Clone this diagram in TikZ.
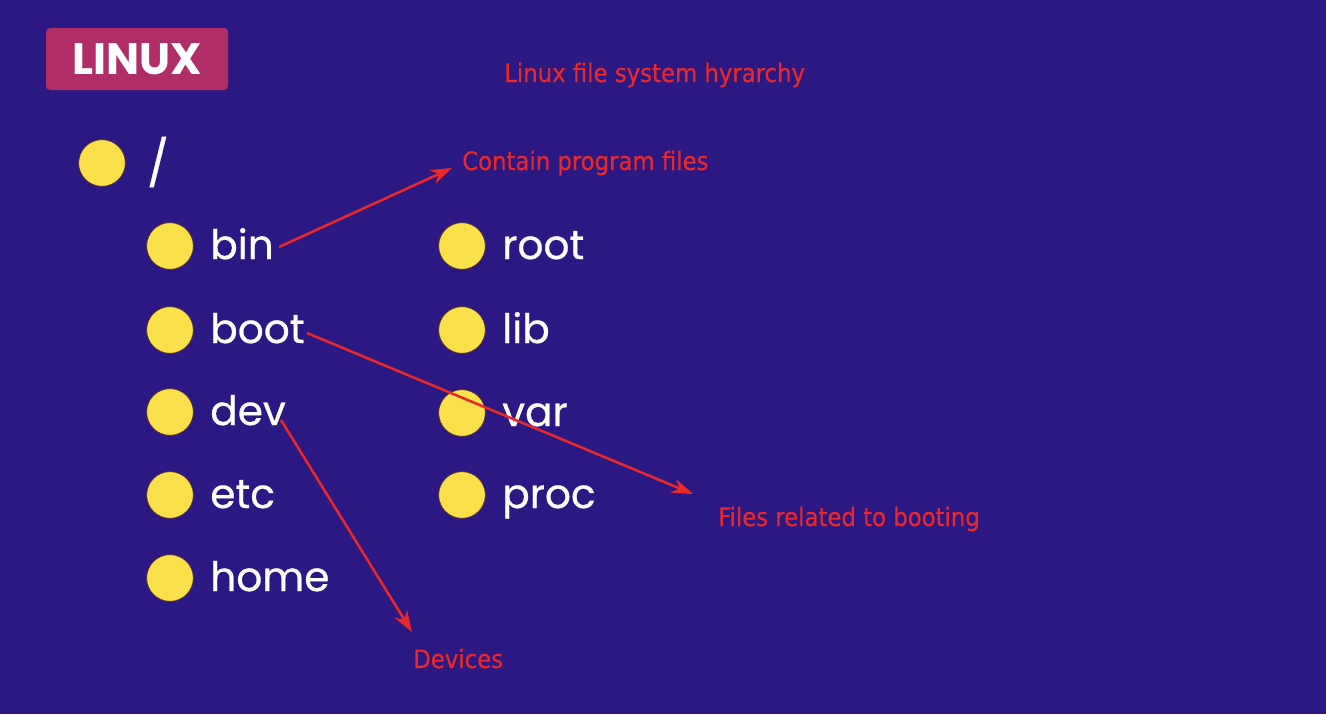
\documentclass[tikz,border=0pt]{standalone}
\usepackage{fontspec}
\setmainfont{DejaVu Sans}
\newfontfamily\notefont{DejaVu Sans Condensed}[FakeBold=0.4]
\newfontfamily\itemfont{Poppins}[FakeBold=0.6]
\newfontfamily\badgefont{Poppins}
\usetikzlibrary{arrows.meta}
\definecolor{bgblue}{RGB}{44,24,130}
\definecolor{badge}{RGB}{176,46,104}
\definecolor{dot}{RGB}{250,224,74}
\definecolor{dotrim}{RGB}{90,50,40}
\definecolor{note}{RGB}{232,40,43}
\tikzset{
  bullet/.style={circle, fill=dot, draw=dotrim, line width=0.5pt, minimum size=35pt, inner sep=0pt},
  dirname/.style={anchor=base west, inner sep=0pt, text=white, font=\itemfont\fontsize{30.5}{31}\selectfont},
  notetext/.style={anchor=base west, inner sep=0pt, text=note, font=\notefont\fontsize{19}{19}\selectfont},
  pointer/.style={draw=note, line width=1.9pt, -{Stealth[length=16pt, width=11pt]}}
}
\begin{document}
\begin{tikzpicture}[x=0.75pt, y=-0.75pt]
  % canvas
  \fill[bgblue] (0,0) rectangle (1326,714);
  \useasboundingbox (0,0) rectangle (1326,714);

  % badge
  \node[fill=badge, rounded corners=3pt, minimum width=136.5pt, minimum height=46.5pt,
        text=white, font=\badgefont\bfseries\fontsize{33}{33}\selectfont] (badge) at (137,59) {LINUX};

  % title
  \node[notetext] (title) at (504,82) {Linux file system hyrarchy};

  % root directory
  \node[bullet] (dslash) at (102,163) {};
  \node[anchor=center, inner sep=0pt, text=white, font=\itemfont\fontsize{34}{34}\selectfont] (slash) at (158,162) {/};

  % first column
  \node[bullet] (dbin)  at (170,246) {};
  \node[bullet] (dboot) at (170,330) {};
  \node[bullet] (ddev)  at (170,412) {};
  \node[bullet] (detc)  at (170,495) {};
  \node[bullet] (dhome) at (170,578) {};
  \node[dirname] (bin)  at (210,259) {bin};
  \node[dirname] (boot) at (210,343) {boot};
  \node[dirname] (dev)  at (210,425) {dev};
  \node[dirname] (etc)  at (210,508) {etc};
  \node[dirname] (home) at (210,591) {home};

  % second column
  \node[bullet] (droot) at (462,246) {};
  \node[bullet] (dlib)  at (462,330) {};
  \node[bullet] (dvar)  at (462,413) {};
  \node[bullet] (dproc) at (462,495) {};
  \node[dirname] (root) at (502,259) {root};
  \node[dirname] (lib)  at (502,343) {lib};
  \node[dirname] (var)  at (502,426) {var};
  \node[dirname] (proc) at (502,508) {proc};

  % annotations
  \node[notetext] (progfiles) at (462,170) {Contain program files};
  \node[notetext] (booting)   at (718,526) {Files related to booting};
  \node[notetext] (devices)   at (413,668) {Devices};

  % pointer tails and tips
  \coordinate (bintail)  at (279,247);
  \coordinate (boottail) at (307,333);
  \coordinate (devtail)  at (281,420);
  \coordinate (progtip)  at (452,168);
  \coordinate (boottip)  at (693,494);
  \coordinate (devtip)   at (412,632);

  \draw[pointer] (bintail) -- (progtip);
  \draw[pointer] (boottail) -- (boottip);
  \draw[pointer] (devtail) -- (devtip);
\end{tikzpicture}
\end{document}
